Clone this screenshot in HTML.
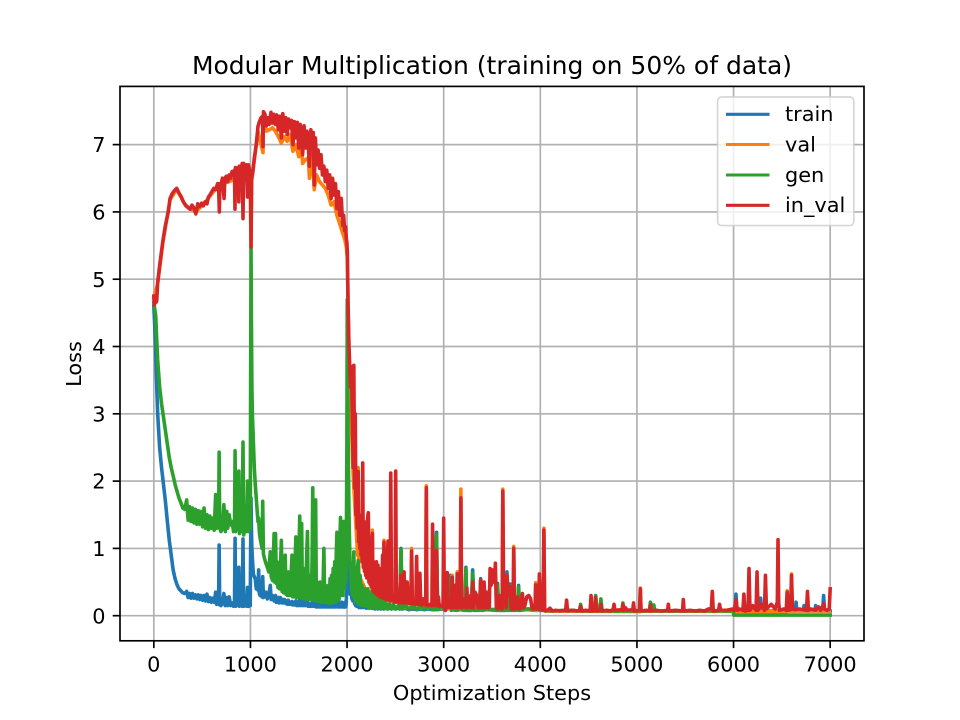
<!DOCTYPE html>
<html lang="en">
<head>
<meta charset="utf-8">
<title>Modular Multiplication</title>
<style>
html,body{margin:0;padding:0;background:#fff;}
svg{display:block;}
text{font-family:"DejaVu Sans","Liberation Sans",sans-serif;fill:#000;}
</style>
</head>
<body>
<svg id="chart" xmlns="http://www.w3.org/2000/svg" width="960" height="720" viewBox="0 0 960 720">
  <rect x="0" y="0" width="960" height="720" fill="#ffffff"/>
  <defs><clipPath id="plot-clip"><rect x="120" y="86.4" width="744" height="554.4"/></clipPath></defs>
  <g id="grid"></g>
  <g id="series" clip-path="url(#plot-clip)"></g>
  <g id="ticks"></g>
  <rect x="120" y="86.4" width="744" height="554.4" fill="none" stroke="#000" stroke-width="1.67"/>
  <text x="492" y="74" font-size="25" text-anchor="middle">Modular Multiplication (training on 50% of data)</text>
  <text x="492" y="700" font-size="20.83" text-anchor="middle">Optimization Steps</text>
  <text x="0" y="0" font-size="20.83" text-anchor="middle" transform="translate(81,364) rotate(-90)">Loss</text>
  <g>
    <rect x="717.6" y="97" width="136.2" height="128.6" rx="4" ry="4" fill="#ffffff" fill-opacity="0.8" stroke="#cccccc" stroke-opacity="0.8" stroke-width="1.67"/>
    <line x1="726" x2="769.5" y1="114.3" y2="114.3" stroke="#1f77b4" stroke-width="3.1"/>
    <text x="785" y="121" font-size="20.83">train</text>
    <line x1="726" x2="769.5" y1="144.5" y2="144.5" stroke="#ff7f0e" stroke-width="3.1"/>
    <text x="785" y="151.3" font-size="20.83">val</text>
    <line x1="726" x2="769.5" y1="175" y2="175" stroke="#2ca02c" stroke-width="3.1"/>
    <text x="785" y="181.8" font-size="20.83">gen</text>
    <line x1="726" x2="769.5" y1="205.3" y2="205.3" stroke="#d62728" stroke-width="3.1"/>
    <text x="785" y="212" font-size="20.83">in_val</text>
  </g>
</svg>
<script>
const xTickValues = [0,1000,2000,3000,4000,5000,6000,7000];
const yTickValues = [0,1,2,3,4,5,6,7];

const sharedSteps = [
0,10,20,30,40,50,60,80,100,120,
140,160,180,200,220,240,260,280,300,320,
340,355,370,385,400,415,430,445,460,475,
490,505,520,535,550,565,580,595,610,625,
640,650,660,670,676,682,695,710,725,740,
755,765,780,795,810,825,835,841,847,860,
874,880,886,900,915,923,930,945,960,970,
980,990,998,1002,1006,1010,1015,1020,1030,1040,
1050,1060,1070,1078,1085,1092,1100,1110,1120,1127,
1134,1145,1160,1175,1190,1205,1215,1230,1245,1252,
1260,1268,1276,1284,1292,1300,1310,1320,1328,1336,
1344,1352,1360,1368,1376,1384,1392,1400,1408,1416,
1424,1430,1438,1446,1454,1462,1470,1478,1486,1494,
1502,1510,1518,1525,1530,1538,1546,1554,1562,1570,
1578,1590,1598,1606,1614,1622,1630,1638,1645,1652,
1660,1668,1675,1682,1690,1698,1706,1714,1722,1730,
1738,1746,1754,1760,1768,1776,1784,1792,1800,1808,
1816,1824,1832,1840,1848,1856,1864,1872,1880,1888,
1895,1902,1910,1918,1926,1932,1940,1948,1956,1964,
1972,1980,1986,1992,1998,2002,2006,2012,2020,2030,
2040,2050,2060,2070,2078,2090,2100,2115,2125,2135,
2145,2155,2170,2185,2200,2215,2230,2245,2260,2275,
2290,2305,2320,2335,2350,2365,2380,2400,2420,2440,
2460,2480,2500,2530,2545,2558,2570,2600,2640,2680,
2720,2760,2800,2840,2880,2915,2926,2937,2980,3020,
3070,3080,3090,3130,3170,3220,3230,3240,3285,3300,
3315,3370,3383,3396,3440,3548,3558,3568,3645,3655,
3665,3678,3688,3698,3765,3775,3785,3850,3950,4040,
4100,4300,4405,4417,4430,4560,4573,4586,4615,4627,
4640,4845,4855,4865,5130,5140,5150,5165,5175,5185,
5990
];
const sharedTrainLoss = [
4.6,4.3,3.9,3.4,3.0,2.75,2.5,2.2,1.95,1.7,
1.4,1.12,.9,.68,.55,.46,.4,.37,.34,.33,
.36,.27,.33,.26,.33,.26,.31,.25,.31,.24,
.3,.23,.3,.22,.32,.21,.27,.2,.26,.2,
.35,.17,.33,.17,1.05,.16,.15,.18,.33,.15,
.27,.15,.28,.15,.19,.14,.17,1.15,.14,.2,
.15,.72,.14,.2,.14,1.14,.14,.2,.14,.42,
.14,.42,.15,1.0,1.75,1.3,1.0,.85,.62,.58,
.55,.4,.5,.38,.68,.33,.3,.33,.28,.58,
.27,.28,.35,.25,.3,.45,.24,.3,.22,.28,
.3,.2,.25,.2,.27,.19,.27,.22,.19,.24,
.19,.24,.2,.18,.22,.17,.23,.17,.2,.17,
.2,.21,.16,.2,.16,.2,.22,.15,.2,.15,
.2,.24,.15,.2,.22,.15,.2,.15,.2,.15,
.2,.2,.14,.18,.14,.18,.14,.18,.2,.14,
.2,.14,.22,.13,.17,.13,.17,.13,.16,.13,
.16,.13,.17,.2,.13,.16,.13,.16,.13,.16,
.13,.16,.13,.16,.13,.16,.13,.16,.13,.16,
.17,.13,.2,.13,.2,.2,.13,.2,.13,.15,
.13,.2,.13,.2,.6,1.2,.8,.6,.4,.32,
.5,.25,.22,.3,.18,.15,.14,.2,.12,.15,
.12,.13,.12,.13,.11,.12,.11,.12,.11,.11,
.1,.11,.1,.11,.1,.11,.1,.11,.1,.11,
.1,.11,.1,.11,.1,1.0,.1,.11,.09,.1,
.09,.1,.09,.1,.09,.09,1.24,.09,.1,.08,
.6,.08,.09,.08,.09,.08,.72,.08,.08,.68,
.08,.09,.55,.08,.09,.08,.48,.08,.08,.65,
.08,.09,.47,.08,.09,.45,.08,.09,.08,.08,
.07,.08,.07,.12,.07,.08,.28,.07,.08,.15,
.07,.08,.15,.07,.07,.2,.07,.08,.12,.07,
.07
];
const sharedGenLoss = [
4.65,4.55,4.45,4.1,3.8,3.6,3.4,3.15,2.95,2.75,
2.55,2.35,2.2,2.08,1.95,1.85,1.75,1.68,1.6,1.58,
1.72,1.42,1.62,1.4,1.6,1.38,1.58,1.36,1.56,1.36,
1.55,1.32,1.6,1.3,1.5,1.28,1.48,1.3,1.45,1.27,
1.8,1.3,1.75,1.32,2.43,1.3,1.25,1.3,1.65,1.25,
1.55,1.3,1.5,1.35,1.4,1.25,1.3,2.45,1.25,1.4,
1.3,2.15,1.22,1.45,1.25,2.58,1.2,1.35,1.25,2.0,
1.25,1.95,1.3,3.5,5.5,4.4,3.4,3.0,2.6,2.2,
1.95,1.75,1.55,1.4,1.45,1.25,1.15,1.08,1.0,1.7,
.92,.85,.78,.72,.65,.95,.58,.52,1.22,.5,
1.22,.48,.8,.42,.72,.4,.7,1.12,.36,.62,
.34,.66,.9,.32,.58,.3,.65,.3,.55,.3,
.7,.9,.28,.62,.28,.75,1.17,.27,.8,.27,
.9,1.48,.27,.9,1.37,.26,.7,.25,.65,.25,
.7,1.25,.24,.6,.24,.55,.24,.8,1.9,.23,
.9,.7,1.72,.22,.5,.22,.45,.21,.5,.21,
.42,.2,.6,1.0,.2,.45,.2,.42,.19,.45,
.19,.55,.19,.6,.19,.7,.2,.8,.2,.9,
1.24,.22,.8,.25,1.1,1.46,.3,1.2,.3,1.4,
.4,1.2,.5,.9,2.5,4.7,3.5,2.5,1.5,.8,
.55,.35,.3,.95,.25,.2,.55,.82,.17,.6,
.16,.45,.15,.4,.14,.4,.12,.35,.12,.32,
.11,.28,.11,.26,.11,.22,.1,.2,.1,.18,
.1,.17,.1,.15,.1,.98,.1,.16,.09,.15,
.09,.14,.09,.14,.09,.1,1.2,.09,.13,.08,
.55,.08,.12,.08,.12,.08,.7,.08,.08,.63,
.08,.08,.52,.08,.1,.08,.45,.08,.08,.6,
.08,.08,.44,.08,.08,.42,.08,.1,.1,.08,
.07,.08,.07,.17,.07,.07,.3,.07,.07,.25,
.07,.07,.19,.07,.07,.19,.07,.07,.16,.07,
.07
];
const trainLateSteps = [6015,6025,6035,6270,6280,6290,6640,6647,6654,6720,6730,6740,6840,6850,6860,6922,6932,6942,7000];
const trainLateLoss = [.07,.32,.07,.07,.26,.07,.07,.2,.07,.07,.15,.07,.07,.15,.07,.07,.3,.07,.07];
const genLateSteps = [6000,6002,7000];
const genLateLoss = [.04,.01,.01];

const valSteps = [
0,40,95,168,237,330,435,530,660,710,
780,860,923,960,998,1006,1012,1078,1130,1135,
1165,1195,1228,1258,1288,1320,1350,1380,1410,1440,
1470,1500,1525,1540,1570,1600,1610,1640,1660,1685,
1715,1745,1775,1805,1835,1865,1895,1925,1955,1975,
1992,2003,2020,2063,2109,2115,2121,2256,2262,2268,
2376,2382,2388,2662,2668,2674,2814,2820,2826,3082,
3088,3094,3134,3140,3146,3172,3178,3184,3606,3612,
3618,3719,3725,3731,3946,3952,3958,4031,4037,4043,
5029,5035,5041,6549,6555,6561,6594,6600,6606,6990
];
const valLoss = [
4.72,4.93,5.56,6.18,6.34,6.09,6.0,6.14,6.38,6.42,
6.45,6.5,6.52,6.55,6.4,5.45,6.45,7.2,6.88,7.44,
7.2,7.22,7.25,7.2,7.12,7.02,7.12,7.05,7.15,6.9,
7.0,6.82,7.03,6.72,6.78,6.8,6.5,6.85,6.33,6.55,
6.45,6.4,6.35,6.25,6.1,6.15,5.95,5.82,5.68,5.6,
5.48,5.3,3.9,2.1,.9,2.2,.6,.2,1.27,.18,
.15,1.12,.14,.12,1.0,.13,.11,1.93,.12,.1,
.6,.11,.1,.65,.12,.1,1.88,.11,.09,1.88,
.1,.09,1.03,.1,.09,.49,.08,.09,1.3,.07,
.06,.41,.07,.06,.37,.07,.08,.62,.07,.07
];

const inValSteps = [
0,5,10,15,20,25,30,40,60,80,
95,120,150,168,190,215,237,260,285,305,
330,350,375,395,415,435,455,475,495,512,
530,550,565,580,600,620,640,660,672,678,
684,695,710,727,735,750,765,780,795,810,
825,835,840,845,860,875,880,885,900,915,
923,930,945,960,970,978,990,998,1003,1006,
1012,1025,1040,1060,1078,1095,1110,1125,1130,1135,
1150,1165,1180,1195,1213,1228,1243,1258,1273,1288,
1303,1320,1335,1350,1365,1380,1395,1410,1425,1440,
1455,1470,1485,1500,1515,1525,1540,1555,1570,1585,
1600,1610,1625,1640,1650,1660,1672,1685,1700,1715,
1730,1745,1760,1775,1790,1805,1820,1835,1850,1865,
1880,1895,1910,1925,1940,1955,1965,1975,1985,1992,
1998,2003,2010,2020,2035,2045,2055,2063,2070,2078,
2085,2092,2098,2104,2110,2115,2120,2126,2132,2138,
2144,2150,2156,2162,2168,2174,2180,2186,2192,2198,
2204,2210,2216,2220,2226,2232,2238,2244,2250,2256,
2262,2268,2274,2280,2288,2296,2304,2312,2320,2328,
2336,2344,2352,2360,2368,2376,2382,2388,2396,2404,
2412,2418,2424,2430,2438,2446,2452,2460,2475,2490,
2497,2503,2510,2525,2540,2555,2570,2580,2590,2600,
2610,2622,2635,2650,2660,2668,2676,2690,2705,2712,
2720,2728,2740,2748,2754,2762,2775,2790,2805,2814,
2820,2826,2840,2855,2870,2878,2885,2892,2905,2918,
2926,2934,2945,2955,2970,2985,2993,3000,3007,3018,
3030,3037,3047,3060,3072,3080,3088,3095,3105,3115,
3125,3133,3140,3148,3158,3170,3178,3186,3200,3215,
3230,3240,3250,3265,3280,3292,3300,3310,3325,3342,
3355,3365,3375,3383,3392,3405,3418,3430,3445,3460,
3472,3480,3490,3500,3508,3516,3528,3535,3545,3560,
3575,3590,3605,3612,3620,3635,3645,3655,3665,3678,
3688,3698,3712,3718,3725,3733,3750,3766,3780,3795,
3805,3815,3825,3840,3860,3880,3900,3915,3935,3945,
3952,3960,3975,3983,3990,3998,4005,4020,4030,4037,
4045,4055,4075,4100,4125,4160,4200,4262,4272,4282,
4340,4380,4408,4417,4426,4470,4515,4525,4535,4565,
4573,4581,4620,4627,4634,4690,4730,4755,4763,4771,
4847,4855,4863,4880,4900,4957,4965,4973,5027,5035,
5043,5100,5133,5140,5147,5200,5250,5318,5325,5332,
5400,5472,5480,5488,5550,5600,5650,5700,5740,5770,
5780,5790,5845,5855,5865,5930,5990,6010,6025,6040,
6060,6097,6107,6117,6150,6160,6170,6200,6233,6243,
6253,6290,6320,6330,6340,6390,6430,6448,6453,6460,
6467,6475,6520,6545,6555,6565,6590,6600,6610,6640,
6680,6755,6765,6775,6800,6850,6880,6900,6925,6932,
6940,6970,6990,7000
];
const inValLoss = [
4.75,4.62,4.72,4.65,4.75,4.66,4.68,4.95,5.2,5.42,
5.58,5.8,6.0,6.2,6.27,6.32,6.35,6.28,6.22,6.15,
6.1,6.07,6.04,6.1,6.06,5.97,6.12,6.08,6.13,6.09,
6.15,6.12,6.22,6.25,6.3,6.35,6.33,6.42,6.32,6.0,
6.42,6.4,6.5,6.2,6.5,6.53,6.45,6.55,6.5,6.6,
6.55,6.62,6.04,6.66,6.6,6.66,6.15,6.68,6.6,6.72,
5.9,6.72,6.6,6.7,6.22,6.7,6.62,6.4,6.15,5.48,
6.5,6.6,6.8,7.0,7.27,7.35,7.4,7.42,6.97,7.49,
7.45,7.28,7.4,7.3,7.48,7.32,7.45,7.3,7.44,7.22,
7.42,7.1,7.46,7.2,7.4,7.15,7.38,7.25,7.36,7.0,
7.34,7.1,7.33,6.95,7.3,7.15,6.85,7.28,6.95,7.2,
6.95,6.68,7.22,7.0,7.18,6.4,7.1,6.7,6.92,6.65,
6.85,6.55,6.68,6.45,6.62,6.35,6.55,6.2,6.5,6.25,
6.42,6.05,6.3,5.95,6.2,5.8,5.95,5.72,5.78,5.6,
5.55,5.4,4.6,4.0,3.4,3.7,2.9,2.2,3.72,1.9,
3.0,1.5,1.9,1.3,1.8,2.14,1.1,1.5,1.0,1.45,
.9,1.4,.8,2.27,.72,1.4,.66,1.38,.6,1.35,
.56,1.4,1.5,1.53,.5,1.1,.47,1.05,.43,1.1,
1.22,.38,.8,.35,.78,.33,.8,.31,.75,.29,
.7,.28,.65,.27,.9,.26,1.09,.25,.8,.24,
.7,.9,1.11,.23,.5,.22,2.12,.22,.3,.2,
.21,2.15,.2,.35,.19,.6,.19,.2,.65,.19,
.5,.5,.18,.19,.18,.96,.18,.19,.17,.18,
.88,.17,.3,.17,.63,.17,.16,.25,.16,.17,
1.9,.16,.15,.16,.18,.15,1.36,.15,.35,.15,
.97,.15,.28,.14,.15,.14,.15,1.45,.12,.08,
.14,.64,.12,.13,.12,.13,.57,.12,.13,.45,
.12,.13,.62,.12,.13,.12,1.75,.12,.13,.25,
.12,.41,.12,.13,.3,.12,.5,.12,.35,.3,
.12,.13,.12,.53,.3,.12,.5,.12,.35,.12,
.13,.7,.45,.5,.68,.5,.55,.78,.12,.1,
.3,.11,.1,1.85,.4,.35,.12,.6,.4,.3,
.43,.1,.11,.1,1.0,.1,.11,.28,.1,.11,
.25,.33,.12,.15,.28,.3,.25,.1,.11,.1,
.46,.1,.11,.1,.62,.35,.1,.08,.09,1.27,
.1,.07,.08,.11,.07,.08,.07,.08,.23,.07,
.08,.07,.08,.14,.07,.08,.07,.3,.07,.08,
.27,.07,.08,.17,.07,.08,.07,.1,.17,.08,
.09,.17,.08,.12,.08,.09,.19,.07,.08,.4,
.07,.08,.07,.16,.07,.08,.07,.08,.17,.07,
.08,.07,.24,.07,.08,.07,.08,.07,.1,.1,
.36,.07,.08,.17,.09,.08,.1,.08,.24,.08,
.1,.08,.32,.07,.08,.7,.08,.15,.08,.65,
.08,.17,.08,.6,.1,.17,.1,.18,.2,1.13,
.2,.08,.1,.08,.35,.08,.09,.6,.1,.09,
.1,.08,.36,.08,.1,.08,.13,.08,.15,.18,
.1,.08,.1,.4
];

const SVG_NS = 'http://www.w3.org/2000/svg';
const xDomainMin = -350, xDomainMax = 7350;
const yDomainMin = -0.373, yDomainMax = 7.865;
const plotLeft = 120, plotRight = 864, plotTop = 86.4, plotBottom = 640.8;

function xScale(step) {
  return plotLeft + (step - xDomainMin) * (plotRight - plotLeft) / (xDomainMax - xDomainMin);
}
function yScale(loss) {
  return plotBottom - (loss - yDomainMin) * (plotBottom - plotTop) / (yDomainMax - yDomainMin);
}
function make(tag, attrs) {
  const el = document.createElementNS(SVG_NS, tag);
  for (const key in attrs) el.setAttribute(key, attrs[key]);
  return el;
}

const gridGroup = document.getElementById('grid');
const tickGroup = document.getElementById('ticks');
const seriesGroup = document.getElementById('series');

xTickValues.forEach(function (value) {
  const x = xScale(value);
  const gridLine = make('line', {x1: x, x2: x, y1: plotTop, y2: plotBottom, stroke: '#b0b0b0', 'stroke-width': 1.67});
  
  
  gridGroup.appendChild(gridLine);
  const tick = make('line', {x1: x, x2: x, y1: plotBottom, y2: plotBottom + 7.3, stroke: '#000', 'stroke-width': 1.67});
  
  
  tickGroup.appendChild(tick);
  const label = make('text', {x: x, y: 671.3, 'font-size': 20.83, 'text-anchor': 'middle'});
  
  
  label.textContent = String(value);
  tickGroup.appendChild(label);
});

yTickValues.forEach(function (value) {
  const y = yScale(value);
  const gridLine = make('line', {x1: plotLeft, x2: plotRight, y1: y, y2: y, stroke: '#b0b0b0', 'stroke-width': 1.67});
  
  
  gridGroup.appendChild(gridLine);
  const tick = make('line', {x1: plotLeft - 7.3, x2: plotLeft, y1: y, y2: y, stroke: '#000', 'stroke-width': 1.67});
  
  
  tickGroup.appendChild(tick);
  const label = make('text', {x: 105.5, y: y + 7.6, 'font-size': 20.83, 'text-anchor': 'end'});
  
  
  label.textContent = String(value);
  tickGroup.appendChild(label);
});

function drawSeries(steps, losses, color, name) {
  const points = steps.map(function (step, i) {
    return xScale(step).toFixed(2) + ',' + yScale(losses[i]).toFixed(2);
  }).join(' ');
  const line = make('polyline', {points: points, fill: 'none', stroke: color, 'stroke-width': 3.6, 'stroke-linejoin': 'round', 'stroke-linecap': 'square'});
  
  
  seriesGroup.appendChild(line);
}

drawSeries(sharedSteps.concat(trainLateSteps), sharedTrainLoss.concat(trainLateLoss), '#1f77b4', 'train-line');
drawSeries(valSteps, valLoss, '#ff7f0e', 'val-line');
drawSeries(sharedSteps.concat(genLateSteps), sharedGenLoss.concat(genLateLoss), '#2ca02c', 'gen-line');
drawSeries(inValSteps, inValLoss, '#d62728', 'in-val-line');
</script>
</body>
</html>
